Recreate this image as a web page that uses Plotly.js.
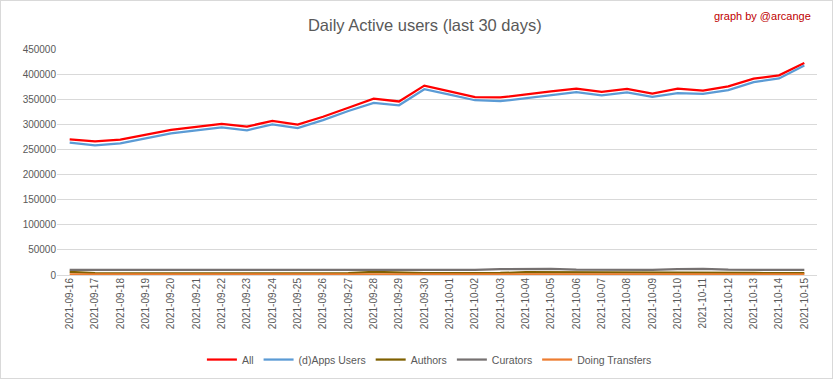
<!DOCTYPE html>
<html><head><meta charset="utf-8">
<script src="https://cdn.plot.ly/plotly-3.0.1.min.js"></script>
<style>
html,body{margin:0;padding:0;background:#fff;}
#wrap{position:absolute;left:0;top:0;width:831px;height:377px;border:1px solid #d9d9d9;}
#chart{width:831px;height:377px;}
</style></head><body>
<div id="wrap"><div id="chart"></div></div>
<script>
const dates = ["2021-09-16","2021-09-17","2021-09-18","2021-09-19","2021-09-20","2021-09-21","2021-09-22","2021-09-23","2021-09-24","2021-09-25","2021-09-26","2021-09-27","2021-09-28","2021-09-29","2021-09-30","2021-10-01","2021-10-02","2021-10-03","2021-10-04","2021-10-05","2021-10-06","2021-10-07","2021-10-08","2021-10-09","2021-10-10","2021-10-11","2021-10-12","2021-10-13","2021-10-14","2021-10-15"];
const allUsers = [270000,266000,269500,279000,289000,295000,301000,295500,307000,299500,315000,333000,351000,345500,377000,365500,354000,353500,360000,365500,371000,364500,370500,361000,371000,367000,375500,391000,397500,422000];
const appsUsers = [263500,258000,262000,272000,282000,288000,294000,288000,300000,292500,308500,326500,342500,338000,370000,359000,348000,346000,352000,358000,364000,357500,363500,354500,362000,360500,368000,384000,391500,417000];
const authors = [6000,3500,3000,3000,3000,3000,3000,3000,3000,3000,3000,3500,6000,4500,3500,3500,3500,4000,5500,5500,5500,5500,5500,4500,4500,5500,5000,4000,3500,3500];
const curators = [10000,10000,10000,10000,10000,10000,10000,10000,10000,10000,10000,10000,10000,10000,10000,10000,10000,11500,12500,12000,10500,10000,10000,10000,11500,12000,10500,10000,10000,10000];
const transfers = [1500,1500,1500,1500,1500,1500,1500,1500,1500,1500,1500,1500,1500,1500,1500,1500,1500,1500,1800,1800,2000,1800,1800,1500,1500,1800,1800,1500,1500,1500];
const yTicks = [0,50000,100000,150000,200000,250000,300000,350000,400000,450000];

const font = "Liberation Sans, Arial, sans-serif";
function tr(name, y, color){
  return {x: dates, y: y, name: name, type: 'scatter', mode: 'lines',
    line: {color: color, width: 2.25}};
}
const data = [
  tr('All', allUsers, '#FF0000'),
  tr('(d)Apps Users', appsUsers, '#5B9BD5'),
  tr('Authors', authors, '#7F6000'),
  tr('Curators', curators, '#767171'),
  tr('Doing Transfers', transfers, '#ED7D31')
];
const layout = {
  width: 831, height: 377,
  margin: {l: 56, r: 15, t: 48, b: 103, autoexpand: false},
  paper_bgcolor: '#fff', plot_bgcolor: '#fff',
  font: {family: font, color: '#595959', size: 10},
  title: {text: 'Daily Active users (last 30 days)', x: 0.51, xanchor: 'center', y: 0.935, yanchor: 'middle',
    font: {family: font, size: 16.5, color: '#595959'}},
  xaxis: {type: 'category', range: [-0.5, 29.5], tickangle: -90, showgrid: false, zeroline: false, showline: false,
    ticks: '', tickfont: {size: 10, color: '#595959'}, fixedrange: true, automargin: false},
  yaxis: {range: [0, 450000], tickvals: yTicks, ticktext: yTicks.map(String), showgrid: true, gridcolor: '#d9d9d9', gridwidth: 1,
    zeroline: true, zerolinecolor: '#d9d9d9', showline: false, ticks: '', tickfont: {size: 10, color: '#595959'}, fixedrange: true, automargin: false},
  showlegend: true,
  legend: {orientation: 'h', x: 0.49, xanchor: 'center', y: -0.31, yanchor: 'top', traceorder: 'normal',
    font: {size: 10.5, color: '#595959'}, itemwidth: 30},
  annotations: [{text: 'graph by @arcange', xref: 'paper', yref: 'paper', x: 0.995, y: 1.145, xanchor: 'right', yanchor: 'middle',
    showarrow: false, font: {family: font, size: 11, color: '#C00000'}}]
};
Plotly.newPlot('chart', data, layout, {displayModeBar: false, staticPlot: true});
</script>
</body></html>
